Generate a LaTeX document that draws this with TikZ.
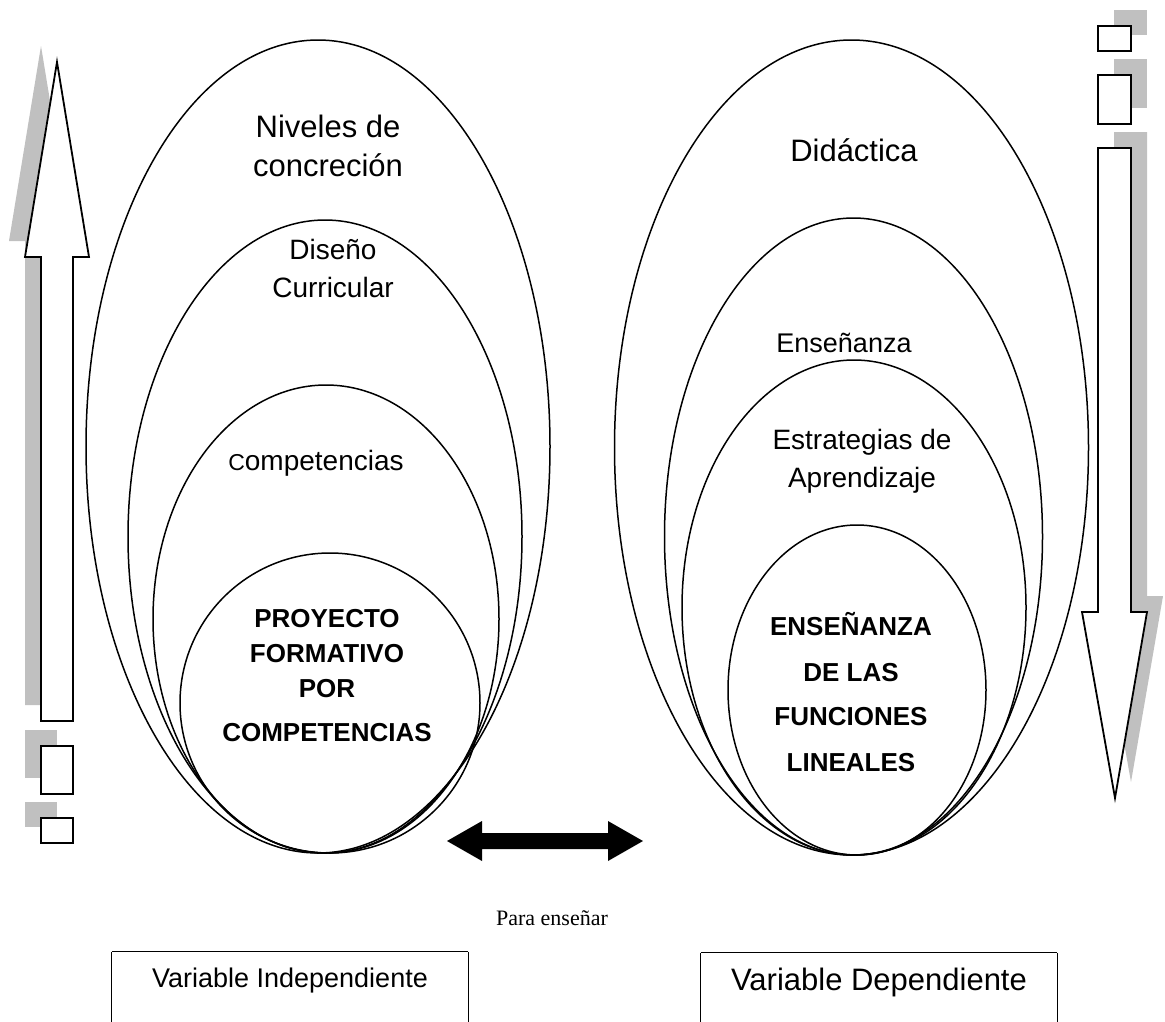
\documentclass[tikz,border=0pt]{standalone}
\usepackage{fontspec}
\setmainfont{Liberation Sans}
\newfontfamily\serifface{Liberation Serif}
\definecolor{shadowgray}{HTML}{C0C0C0}
\begin{document}
\begin{tikzpicture}[x=1pt,y=-1pt,
  ring/.style={draw=black,line width=1.5pt},
  arrowbody/.style={draw=black,line width=1.8pt,fill=white,line join=miter},
  label/.style={inner sep=0pt,align=center,font=\fontsize{#1}{#1}\selectfont},
  boldlabel/.style={inner sep=0pt,align=center,font=\fontsize{26}{26}\selectfont\bfseries},
  varbox/.style={inner sep=0pt,minimum width=356pt,minimum height=58pt}
]
\useasboundingbox[fill=white] (0,0) rectangle (1165,1021);

% ---------- left column: upward arrow with dashed tail ----------
\begin{scope}[shift={(-16,-16)}]
  \fill[shadowgray] (41,721) -- (41,257) -- (25,257) -- (57,62) -- (89,257) -- (73,257) -- (73,721) -- cycle;
  \fill[shadowgray] (41,746) rectangle (73,794);
  \fill[shadowgray] (41,818) rectangle (73,843);
\end{scope}
\draw[arrowbody] (41,721) -- (41,257) -- (25,257) -- (57,62) -- (89,257) -- (73,257) -- (73,721) -- cycle;
\draw[arrowbody] (41,746) rectangle (73,794);
\draw[arrowbody] (41,818) rectangle (73,843);

% ---------- right column: downward arrow with dashed tail ----------
\begin{scope}[shift={(16,-16)}]
  \fill[shadowgray] (1098,148) -- (1098,612) -- (1082,612) -- (1115,798) -- (1147,612) -- (1131,612) -- (1131,148) -- cycle;
  \fill[shadowgray] (1098,75) rectangle (1131,124);
  \fill[shadowgray] (1098,26) rectangle (1131,51);
\end{scope}
\draw[arrowbody] (1098,148) -- (1098,612) -- (1082,612) -- (1115,798) -- (1147,612) -- (1131,612) -- (1131,148) -- cycle;
\draw[arrowbody] (1098,75) rectangle (1131,124);
\draw[arrowbody] (1098,26) rectangle (1131,51);

% ---------- nested ellipses, independent variable ----------
\draw[ring] (318,446.5) ellipse [x radius=232, y radius=406.5];
\draw[ring] (325,536.5) ellipse [x radius=197, y radius=316.5];
\draw[ring] (326,619) ellipse [x radius=173, y radius=234];
\draw[ring] (330,703) ellipse [x radius=150, y radius=150];

\node[label=31] (niveles) at (328,146) {Niveles de\\[8pt]concreción};
\node[label=28] (diseno) at (333,268) {Diseño\\[10pt]Curricular};
\node[label=28] (compet) at (316,463) {{\fontsize{23}{23}\selectfont C}ompetencias};
\node[boldlabel] (proyecto) at (327,676) {PROYECTO\\[9pt]FORMATIVO\\[9pt]POR\\[18pt]COMPETENCIAS};

% ---------- nested ellipses, dependent variable ----------
\draw[ring] (851.5,447.5) ellipse [x radius=237, y radius=407.5];
\draw[ring] (853.5,536.5) ellipse [x radius=189, y radius=318.5];
\draw[ring] (854,607.5) ellipse [x radius=172, y radius=247.5];
\draw[ring] (857,690) ellipse [x radius=129, y radius=165];

\node[label=31] (didactica) at (854,150) {Didáctica};
\node[label=27] (ensenanza) at (844,343) {Enseñanza};
\node[label=28] (estrategias) at (862,461) {Estrategias de\\[10pt]Aprendizaje};
\node[boldlabel] (funciones) at (851,692) {ENSEÑANZA\\[20pt]DE LAS\\[18pt]FUNCIONES\\[20pt]LINEALES};

% ---------- link between both variables ----------
\fill[black] (447,841) -- (482,821) -- (482,833) -- (608,833) -- (608,821) -- (643,841)
  -- (608,861) -- (608,849) -- (482,849) -- (482,861) -- cycle;
\node[inner sep=0pt,font=\serifface\fontsize{22}{22}\selectfont] (para) at (552,918) {Para enseñar};

% ---------- variable boxes (open at the lower page edge) ----------
\node[varbox,font=\fontsize{27}{27}\selectfont] (vindep) at (290,981) {Variable Independiente};
\node[varbox,font=\fontsize{31}{31}\selectfont] (vdep) at (879,982) {Variable Dependiente};
\draw[line width=1.3pt] (vindep.north west) -- (vindep.north east);
\draw[line width=1.3pt] (vindep.north west) -- ++(0,80);
\draw[line width=1.3pt] (vindep.north east) -- ++(0,80);
\draw[line width=1.3pt] (vdep.north west) -- (vdep.north east);
\draw[line width=1.3pt] (vdep.north west) -- ++(0,80);
\draw[line width=1.3pt] (vdep.north east) -- ++(0,80);
\end{tikzpicture}
\end{document}
